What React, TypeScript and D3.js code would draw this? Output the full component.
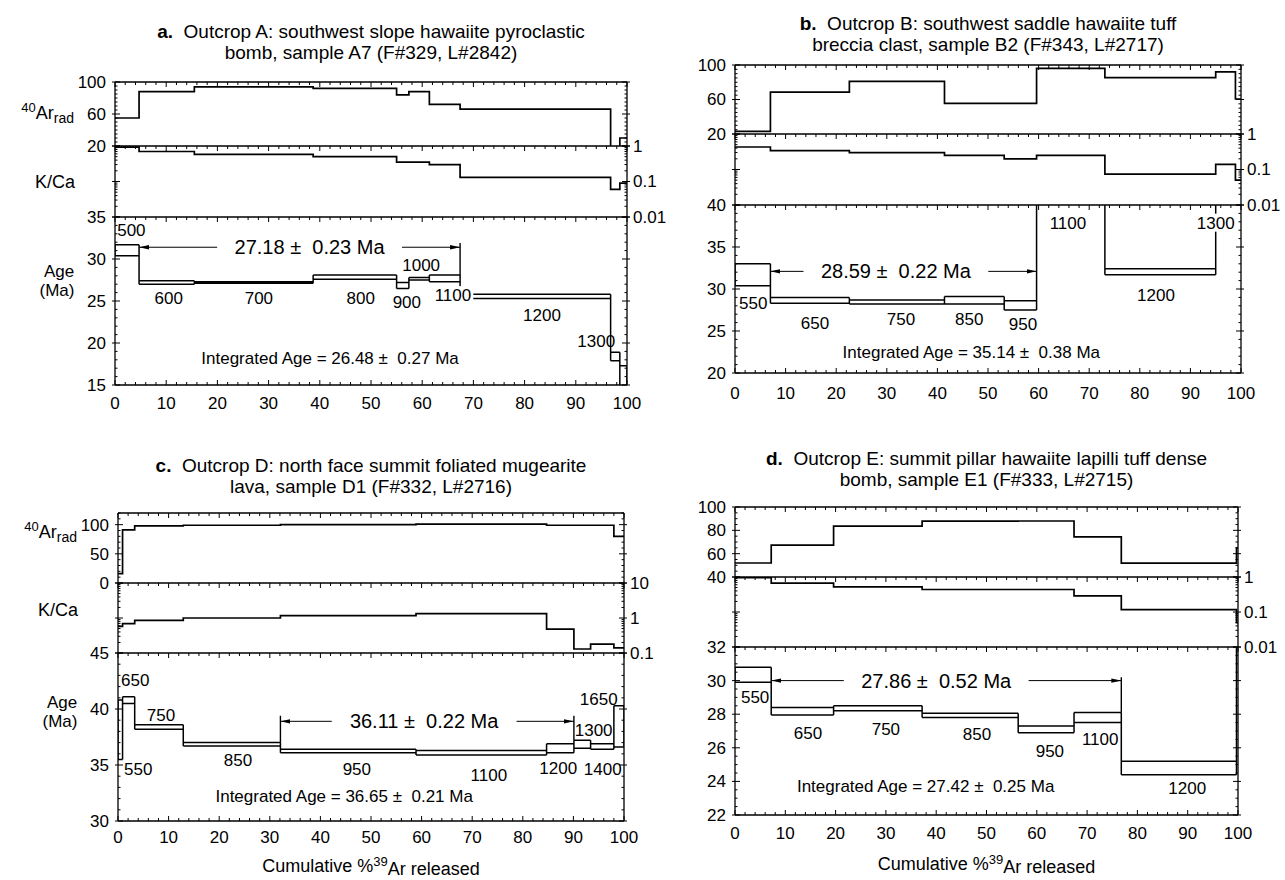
import React from 'react';
import * as d3 from 'd3';

const FONT = '"Liberation Sans", Arial, Helvetica, sans-serif';

// ---- a. Outcrop A, sample A7 ----
const aTemps = ['500', '600', '700', '800', '900', '1000', '1100', '1200', '1300', ''];
const aSteps = [0, 4.7, 15.5, 38.7, 55.0, 57.4, 61.4, 67.4, 96.8, 98.6, 100];
const aArRad = [55, 88, 94, 92, 84, 88, 72, 66, 15, 30];
const aKCa = [0.93, 0.7, 0.58, 0.5, 0.35, 0.35, 0.3, 0.13, 0.06, 0.09];
const aAgeLo = [30.4, 27.0, 27.1, 27.6, 26.5, 27.5, 27.3, 25.3, 17.9, 14.0];
const aAgeHi = [31.7, 27.4, 27.3, 28.1, 27.2, 27.8, 28.1, 25.8, 18.9, 17.3];
const aLabelX = [3.2, 10.5, 28.1, 48, 57, 59.8, 66, 83.4, 94.0];
const aLabelY = [33.5, 25.4, 25.4, 25.4, 24.9, 29.3, 25.7, 23.3, 20.2];
const aPlateau = [4.7, 67.4, 31.4, 38];
const aPlateauTicks = [[67.4, 31.9, 28.1]];
const aIntegrated = [42, 18.2];

// ---- b. Outcrop B, sample B2 ----
const bTemps = ['550', '650', '750', '850', '950', '1100', '1200', '1300', ''];
const bSteps = [0, 7.0, 22.6, 41.4, 53.2, 59.6, 73.1, 95.0, 98.9, 100];
const bArRad = [23, 68.5, 81, 55.5, 55.5, 96, 85.4, 92, 60.6];
const bKCa = [0.43, 0.34, 0.3, 0.25, 0.2, 0.25, 0.074, 0.14, 0.05];
const bAgeLo = [30.4, 28.3, 28.2, 28.2, 27.5, 44, 31.7, 45, 44];
const bAgeHi = [33.0, 29.0, 28.7, 29.1, 28.6, 46, 32.4, 47, 46];
const bLabelX = [3.6, 15.8, 32.8, 46.3, 56.9, 65.8, 83.2, 95.0];
const bLabelY = [28.3, 26.0, 26.4, 26.4, 25.8, 37.9, 29.3, 37.9];
const bPlateau = [7.0, 59.6, 32.1, 31.8];
const bPlateauTicks: number[][] = [];
const bIntegrated = [46.7, 22.5];

// ---- c. Outcrop D, sample D1 ----
const cTemps = ['550', '650', '750', '850', '950', '1100', '1200', '1300', '1400', '1650'];
const cSteps = [0, 0.9, 3.3, 12.9, 32.1, 58.9, 84.7, 90.1, 93.4, 98.0, 100];
const cArRad = [16, 91, 98, 99, 100, 101, 99, 99, 99, 80];
const cKCa = [0.58, 0.69, 0.86, 1.0, 1.17, 1.33, 0.48, 0.13, 0.18, 0.14];
const cAgeLo = [35.5, 40.5, 38.2, 36.7, 36.1, 35.9, 36.1, 36.5, 36.4, 36.6];
const cAgeHi = [40.8, 41.1, 38.6, 37.0, 36.4, 36.3, 36.9, 37.2, 36.9, 40.3];
const cLabelX = [4.0, 3.4, 8.5, 23.7, 47.2, 73.3, 87, 94.0, 95.8, 95.0];
const cLabelY = [34.6, 42.6, 39.5, 35.45, 34.6, 34.1, 34.7, 38.1, 34.6, 40.9];
const cPlateau = [32.1, 90.1, 38.9, 60.5];
const cPlateauTicks = [[32.1, 39.4, 37.0], [90.1, 39.4, 37.2]];
const cIntegrated = [44.7, 32.2];

// ---- d. Outcrop E, sample E1 ----
const dTemps = ['550', '650', '750', '850', '950', '1100', '1200', ''];
const dSteps = [0, 7.2, 19.6, 37.2, 56.3, 67.4, 76.8, 99.7, 100];
const dArRad = [52, 67.4, 83.6, 87.9, 88, 74.4, 51.9, 65];
const dKCa = [0.96, 0.67, 0.52, 0.44, 0.44, 0.29, 0.117, 0.05];
const dAgeLo = [29.9, 27.95, 28.2, 27.8, 26.9, 27.5, 24.4, 33];
const dAgeHi = [30.8, 28.4, 28.5, 28.05, 27.3, 28.1, 25.2, 36];
const dLabelX = [4.0, 14.5, 30, 48.1, 62.6, 72.6, 89.9];
const dLabelY = [29.0, 26.9, 27.1, 26.8, 25.8, 26.5, 23.6];
const dPlateau = [7.2, 76.8, 30.0, 40];
const dPlateauTicks = [[76.8, 30.2, 28.1]];
const dIntegrated = [37.9, 23.7];

const xTickLabels = d3.range(0, 101, 10);

type Spec = {
  id: string; letter: string; title: string[];
  x0: number; x1: number; tY: number[];
  yAr: number[]; yK: number[]; yAge: number[];
  arDom: number[]; arLab: number[]; arStep: number;
  kDom: number[];
  ageDom: number[]; ageLab: number[]; ageStep: number;
  steps: number[]; temps: string[]; ar: number[]; kca: number[]; lo: number[]; hi: number[];
  labX: number[]; labY: number[]; labBg: string[];
  plateau: number[]; plateauText: string; plateauTicks: number[][];
  integ: number[]; integText: string;
  axisTitles: number[] | null;
  xLabY: number; cumY?: number;
};

const SP = '\u00a0';

const panels: Spec[] = [
  {
    id: 'a', letter: 'a.', title: ['Outcrop A: southwest slope hawaiite pyroclastic', 'bomb, sample A7 (F#329, L#2842)'],
    x0: 115, x1: 627, tY: [38, 59], yAr: [82, 146], yK: [146, 217], yAge: [217, 385],
    arDom: [20, 100], arLab: [20, 60, 100], arStep: 5, kDom: [0.01, 1],
    ageDom: [15, 35], ageLab: [15, 20, 25, 30, 35], ageStep: 1,
    steps: aSteps, temps: aTemps, ar: aArRad, kca: aKCa, lo: aAgeLo, hi: aAgeHi,
    labX: aLabelX, labY: aLabelY, labBg: ['1100'],
    plateau: aPlateau, plateauText: `27.18 \u00b1${SP} 0.23 Ma`, plateauTicks: aPlateauTicks,
    integ: aIntegrated, integText: `Integrated Age = 26.48 \u00b1${SP} 0.27 Ma`,
    axisTitles: [60, 0.1, 28.6, 26.3], xLabY: 409,
  },
  {
    id: 'b', letter: 'b.', title: ['Outcrop B: southwest saddle hawaiite tuff', 'breccia clast, sample B2 (F#343, L#2717)'],
    x0: 735, x1: 1241, tY: [30, 51], yAr: [65, 134], yK: [134, 205], yAge: [205, 373],
    arDom: [20, 100], arLab: [20, 60, 100], arStep: 5, kDom: [0.01, 1],
    ageDom: [20, 40], ageLab: [20, 25, 30, 35, 40], ageStep: 1,
    steps: bSteps, temps: bTemps, ar: bArRad, kca: bKCa, lo: bAgeLo, hi: bAgeHi,
    labX: bLabelX, labY: bLabelY, labBg: ['1300', '1100'],
    plateau: bPlateau, plateauText: `28.59 \u00b1${SP} 0.22 Ma`, plateauTicks: bPlateauTicks,
    integ: bIntegrated, integText: `Integrated Age = 35.14 \u00b1${SP} 0.38 Ma`,
    axisTitles: null, xLabY: 399,
  },
  {
    id: 'c', letter: 'c.', title: ['Outcrop D: north face summit foliated mugearite', 'lava, sample D1 (F#332, L#2716)'],
    x0: 118, x1: 624, tY: [472, 493], yAr: [513, 583], yK: [583, 653], yAge: [653, 821],
    arDom: [0, 120], arLab: [0, 50, 100], arStep: 10, kDom: [0.1, 10],
    ageDom: [30, 45], ageLab: [30, 35, 40, 45], ageStep: 1,
    steps: cSteps, temps: cTemps, ar: cArRad, kca: cKCa, lo: cAgeLo, hi: cAgeHi,
    labX: cLabelX, labY: cLabelY, labBg: [],
    plateau: cPlateau, plateauText: `36.11 \u00b1${SP} 0.22 Ma`, plateauTicks: cPlateauTicks,
    integ: cIntegrated, integText: `Integrated Age = 36.65 \u00b1${SP} 0.21 Ma`,
    axisTitles: [86, 1.7, 40.6, 38.9], xLabY: 843, cumY: 872,
  },
  {
    id: 'd', letter: 'd.', title: ['Outcrop E: summit pillar hawaiite lapilli tuff dense', 'bomb, sample E1 (F#333, L#2715)'],
    x0: 735, x1: 1238, tY: [465, 486], yAr: [507, 577], yK: [577, 647], yAge: [647, 815],
    arDom: [40, 100], arLab: [40, 60, 80, 100], arStep: 5, kDom: [0.01, 1],
    ageDom: [22, 32], ageLab: [22, 24, 26, 28, 30, 32], ageStep: 0.5,
    steps: dSteps, temps: dTemps, ar: dArRad, kca: dKCa, lo: dAgeLo, hi: dAgeHi,
    labX: dLabelX, labY: dLabelY, labBg: [],
    plateau: dPlateau, plateauText: `27.86 \u00b1${SP} 0.52 Ma`, plateauTicks: dPlateauTicks,
    integ: dIntegrated, integText: `Integrated Age = 27.42 \u00b1${SP} 0.25 Ma`,
    axisTitles: null, xLabY: 839, cumY: 870,
  },
];

const textW = (s: string, size: number) => s.length * 0.54 * size;

function Panel({ s }: { s: Spec }) {
  const x = d3.scaleLinear().domain([0, 100]).range([s.x0, s.x1]);
  const yAr = d3.scaleLinear().domain(s.arDom).range([s.yAr[1], s.yAr[0]]);
  const yK = d3.scaleLog().domain(s.kDom).range([s.yK[1], s.yK[0]]);
  const yAge = d3.scaleLinear().domain(s.ageDom).range([s.yAge[1], s.yAge[0]]);
  const n = s.temps.length;

  const step = (vals: number[], y: (v: number) => number) =>
    d3.line<number>()
      .x((b) => x(b))
      .y((_, i) => y(vals[Math.min(i, n - 1)]))
      .curve(d3.curveStepAfter)(s.steps) || '';

  // age spectrum boxes: upper and lower limits of each step, joined by verticals
  const p = d3.path();
  for (let i = 0; i < n; i++) {
    p.moveTo(x(s.steps[i]), yAge(s.hi[i])); p.lineTo(x(s.steps[i + 1]), yAge(s.hi[i]));
    p.moveTo(x(s.steps[i]), yAge(s.lo[i])); p.lineTo(x(s.steps[i + 1]), yAge(s.lo[i]));
  }
  for (let i = 0; i <= n; i++) {
    const a = Math.max(0, i - 1), b = Math.min(n - 1, i);
    const top = Math.max(s.hi[a], s.hi[b]), bot = Math.min(s.lo[a], s.lo[b]);
    p.moveTo(x(s.steps[i]), yAge(top)); p.lineTo(x(s.steps[i]), yAge(bot));
  }

  const xs = d3.range(0, 101, 2);
  const arT = d3.range(s.arDom[0], s.arDom[1] + 0.01, s.arStep);
  const ageT = d3.range(s.ageDom[0], s.ageDom[1] + 0.001, s.ageStep);
  const kT: number[] = [];
  for (let dec = s.kDom[0]; dec < s.kDom[1] * 0.99; dec *= 10) {
    for (let m = 1; m < 10; m++) kT.push(dec * m);
  }
  kT.push(s.kDom[1]);
  const kMajor = (v: number) => Math.abs(Math.log10(v) - Math.round(Math.log10(v))) < 1e-6;

  let tp = '';
  [s.yAr[0], s.yK[0], s.yAge[0]].forEach((yy) => {
    xs.forEach((v) => { const L = v % 10 === 0 ? 5 : 3; tp += `M${x(v)},${yy}v${L}`; });
  });
  xs.forEach((v) => { const L = v % 10 === 0 ? 5 : 3; tp += `M${x(v)},${s.yAge[1]}v${-L}`; });
  const yTicks = (vals: number[], y: (v: number) => number, major: (v: number) => boolean) => {
    vals.forEach((v) => {
      const m = major(v);
      tp += `M${s.x0 - (m ? 3 : 0)},${y(v)}h${m ? 8 : 2.5}`;
      tp += `M${s.x1 + (m ? 3 : 0)},${y(v)}h${m ? -8 : -2.5}`;
    });
  };
  yTicks(arT, yAr, (v) => s.arLab.includes(v));
  yTicks(kT, yK, kMajor);
  yTicks(ageT, yAge, (v) => s.ageLab.includes(v));

  const cx = (s.x0 + s.x1) / 2;
  const [p0, p1, py, ptx] = s.plateau;
  const ptW = textW(s.plateauText, 20);

  return (
    <g>
      <defs>
        <clipPath id={`${s.id}-ar`}><rect x={s.x0} y={s.yAr[0]} width={s.x1 - s.x0} height={s.yAr[1] - s.yAr[0]} /></clipPath>
        <clipPath id={`${s.id}-k`}><rect x={s.x0} y={s.yK[0]} width={s.x1 - s.x0} height={s.yK[1] - s.yK[0]} /></clipPath>
        <clipPath id={`${s.id}-age`}><rect x={s.x0} y={s.yAge[0]} width={s.x1 - s.x0} height={s.yAge[1] - s.yAge[0]} /></clipPath>
      </defs>

      <text x={cx} y={s.tY[0]} fontSize={19} textAnchor="middle">
        <tspan fontWeight="bold">{s.letter}</tspan>
        <tspan>{SP + ' ' + s.title[0]}</tspan>
      </text>
      <text x={cx} y={s.tY[1]} fontSize={19} textAnchor="middle">{s.title[1]}</text>

      <path d={step(s.ar, yAr)} fill="none" stroke="#000" strokeWidth={1.7} clipPath={`url(#${s.id}-ar)`} />
      <path d={step(s.kca, yK)} fill="none" stroke="#000" strokeWidth={1.7} clipPath={`url(#${s.id}-k)`} />
      <path d={p.toString()} fill="none" stroke="#000" strokeWidth={1.5} clipPath={`url(#${s.id}-age)`} />

      {/* plateau age */}
      <g>
        <line x1={x(p0)} x2={x(p1)} y1={yAge(py)} y2={yAge(py)} stroke="#000" strokeWidth={1}
          markerStart="url(#arrow)" markerEnd="url(#arrow)" />
        <rect x={x(ptx) - ptW / 2 - 6} y={yAge(py) - 11} width={ptW + 12} height={22} fill="#fff" />
        <text x={x(ptx)} y={yAge(py)} dy="0.35em" fontSize={20} textAnchor="middle">{s.plateauText}</text>
        {s.plateauTicks.map((t, i) => (
          <line key={i} x1={x(t[0])} x2={x(t[0])} y1={yAge(t[1])} y2={yAge(t[2])} stroke="#000" strokeWidth={1.4} />
        ))}
      </g>

      {s.labX.map((lx, i) => {
        const t = s.temps[i];
        const bg = s.labBg.includes(t);
        const w = textW(t, 17);
        return (
          <g key={i}>
            {bg && <rect x={x(lx) - w / 2 - 2} y={yAge(s.labY[i]) - 9} width={w + 4} height={18} fill="#fff" />}
            <text x={x(lx)} y={yAge(s.labY[i])} dy="0.35em" fontSize={17} textAnchor="middle">{t}</text>
          </g>
        );
      })}

      <text x={x(s.integ[0])} y={yAge(s.integ[1])} dy="0.35em" fontSize={17} textAnchor="middle">{s.integText}</text>

      {/* frame */}
      <path d={`M${s.x0},${s.yAr[0]}H${s.x1}M${s.x0},${s.yK[0]}H${s.x1}M${s.x0},${s.yAge[0]}H${s.x1}M${s.x0},${s.yAge[1]}H${s.x1}M${s.x0},${s.yAr[0]}V${s.yAge[1]}M${s.x1},${s.yAr[0]}V${s.yAge[1]}`}
        fill="none" stroke="#000" strokeWidth={1.3} />
      <path d={tp} fill="none" stroke="#000" strokeWidth={1} />

      {s.arLab.map((v) => (
        <text key={`ar${v}`} x={s.x0 - 9} y={yAr(v)} dy="0.35em" fontSize={17} textAnchor="end">{v}</text>
      ))}
      {s.ageLab.map((v) => (
        <text key={`age${v}`} x={s.x0 - 9} y={yAge(v)} dy="0.35em" fontSize={17} textAnchor="end">{v}</text>
      ))}
      {kT.filter(kMajor).map((v) => (
        <text key={`k${v}`} x={s.x1 + 6} y={yK(v)} dy="0.35em" fontSize={17} textAnchor="start">{String(+v.toPrecision(3))}</text>
      ))}
      {xTickLabels.map((v) => (
        <text key={`x${v}`} x={x(v)} y={s.xLabY} fontSize={17} textAnchor="middle">{v}</text>
      ))}

      {s.axisTitles && (
        <g fontSize={17}>
          <text x={s.x0 - 41} y={yAr(s.axisTitles[0])} dy="0.35em" textAnchor="end">
            <tspan fontSize={13} dy="-0.15em">40</tspan>
            <tspan fontSize={18} dy="0.4em">Ar</tspan>
            <tspan fontSize={14} dy="0.3em">rad</tspan>
          </text>
          <text x={s.x0 - 60} y={yK(s.axisTitles[1])} dy="0.35em" fontSize={18} textAnchor="middle">K/Ca</text>
          <text x={s.x0 - 56} y={yAge(s.axisTitles[2])} dy="0.35em" textAnchor="middle">Age</text>
          <text x={s.x0 - 58} y={yAge(s.axisTitles[3])} dy="0.35em" textAnchor="middle">(Ma)</text>
        </g>
      )}

      {s.cumY && (
        <text x={cx} y={s.cumY} fontSize={18} textAnchor="middle">
          Cumulative %<tspan fontSize={13} dy="-0.5em">39</tspan><tspan dy="0.5em">Ar released</tspan>
        </text>
      )}
    </g>
  );
}

export default function App() {
  return (
    <svg width={1285} height={880} viewBox="0 0 1285 880" fontFamily={FONT}
      style={{ position: 'absolute', left: 0, top: 0, background: '#fff' }}>
      <defs>
        <marker id="arrow" viewBox="0 0 10 6" refX={10} refY={3} markerWidth={10} markerHeight={6}
          orient="auto-start-reverse" markerUnits="userSpaceOnUse">
          <path d="M0,0.8 L10,3 L0,5.2 z" fill="#000" />
        </marker>
      </defs>
      <rect width={1285} height={880} fill="#fff" />
      {panels.map((s) => <Panel key={s.id} s={s} />)}
    </svg>
  );
}
